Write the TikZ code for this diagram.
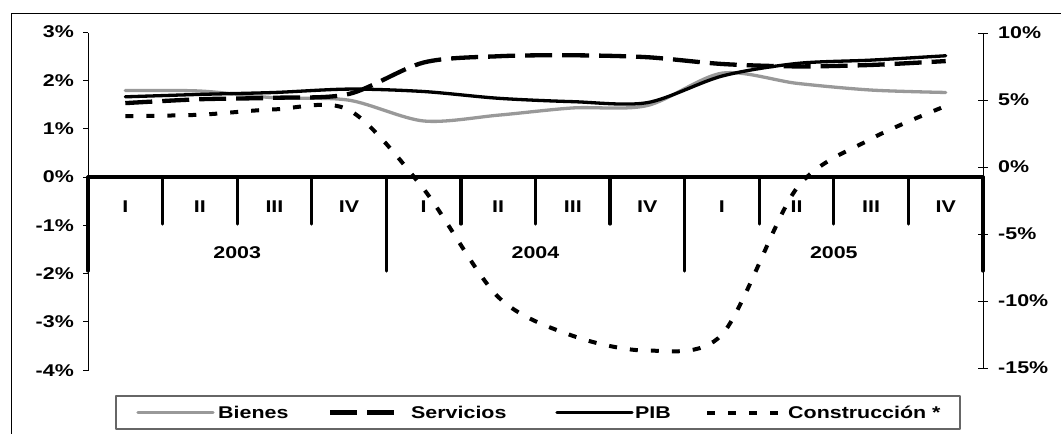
\documentclass[tikz,border=0pt]{standalone}
\usepackage{fontspec}
\setmainfont{Liberation Sans}[FakeStretch=1.26]
\definecolor{bienesgray}{RGB}{153,153,153}
\begin{document}
\begin{tikzpicture}[x=1pt, y=-1pt, line join=round, font=\bfseries\fontsize{17}{20}\selectfont,
  every node/.style={inner sep=0pt},
  axis/.style={line width=0.9pt},
  cat/.style={line width=3.2pt, line cap=round},
  bienes/.style={bienesgray, line width=3.3pt, line cap=round},
  servicios/.style={line width=4.3pt, dash pattern=on 27pt off 10pt},
  pib/.style={line width=3.3pt, line cap=round},
  constr/.style={line width=4pt, dash pattern=on 8pt off 13pt}]
\useasboundingbox (0,0) rectangle (1061,434);
\draw[line width=1pt] (11,434)--(11,13)--(1061,13);
\draw[axis] (88,33)--(88,371);
\draw[axis] (983,33)--(983,368);
\foreach \v [count=\i] in {3,2,1,0,-1,-2,-3,-4}{
  \draw[axis] (83,{177-48.3*\v})--(88,{177-48.3*\v});
  \node[anchor=east] (l\i) at (74,{177-48.3*\v}) {\v\%};}
\foreach \v [count=\i] in {10,5,0,-5,-10,-15}{
  \draw[axis] (978,{167-13.4*\v})--(988,{167-13.4*\v});
  \node[anchor=west] (r\i) at (998,{167-13.4*\v}) {\v\%};}
\draw[cat] (88,177)--(983,177);
\foreach \k in {1,2,3,5,6,7,9,10,11} \draw[cat] ({88+74.58*\k},177)--++(0,47);
\foreach \k in {0,4,8,12} \draw[cat] ({88+74.58*\k},177)--++(0,94);
\foreach \t [count=\i from 0] in {I,II,III,IV,I,II,III,IV,I,II,III,IV}
  \node (q\i) at ({88+74.58*(\i+0.5)},207) {\t};
\foreach \a [count=\i from 0] in {2003,2004,2005}
  \node (y\a) at ({88+298.33*(\i+0.5)},253) {\a};
\begin{scope}[shift={(0,177)}, y=48.3pt]
\draw[bienes] plot[smooth, tension=0.5] coordinates {(125.3,1.79) (199.9,1.78) (274.5,1.64) (349.1,1.59) (423.6,1.16) (498.2,1.28) (572.8,1.43) (647.4,1.48) (722,2.15) (796.6,1.94) (871.2,1.80) (945.7,1.75)};
\draw[servicios] plot[smooth, tension=0.5] coordinates {(125.3,1.53) (199.9,1.61) (274.5,1.64) (349.1,1.72) (423.6,2.37) (498.2,2.50) (572.8,2.52) (647.4,2.48) (722,2.34) (796.6,2.29) (871.2,2.32) (945.7,2.40)};
\draw[pib] plot[smooth, tension=0.5] coordinates {(125.3,1.66) (199.9,1.71) (274.5,1.75) (349.1,1.82) (423.6,1.77) (498.2,1.63) (572.8,1.56) (647.4,1.54) (722,2.09) (796.6,2.35) (871.2,2.42) (945.7,2.51)};
\end{scope}
\begin{scope}[shift={(0,167)}, y=13.4pt]
\draw[constr] plot[smooth, tension=0.5] coordinates {(125.3,3.8) (199.9,3.9) (274.5,4.3) (349.1,4.25) (423.6,-1.64) (498.2,-9.7) (572.8,-12.6) (647.4,-13.7) (722,-12.5) (796.6,-1.6) (871.2,2.1) (945.7,4.55)};
\end{scope}
\draw[line width=1.2pt, black!60] (116,396) rectangle (960,429);
\draw[bienes] (138,412.5)--(213,412.5);
\node[anchor=west] (lbienes) at (218,412.5) {Bienes};
\draw[servicios] (330,412.5)--(400,412.5);
\node[anchor=west] (lservicios) at (411,412.5) {Servicios};
\draw[pib] (557,412.5)--(632,412.5);
\node[anchor=west] (lpib) at (635,412.5) {PIB};
\draw[constr] (707,412.5)--(788,412.5);
\node[anchor=west] (lconstr) at (788,412.5) {Construcción *};
\end{tikzpicture}
\end{document}
